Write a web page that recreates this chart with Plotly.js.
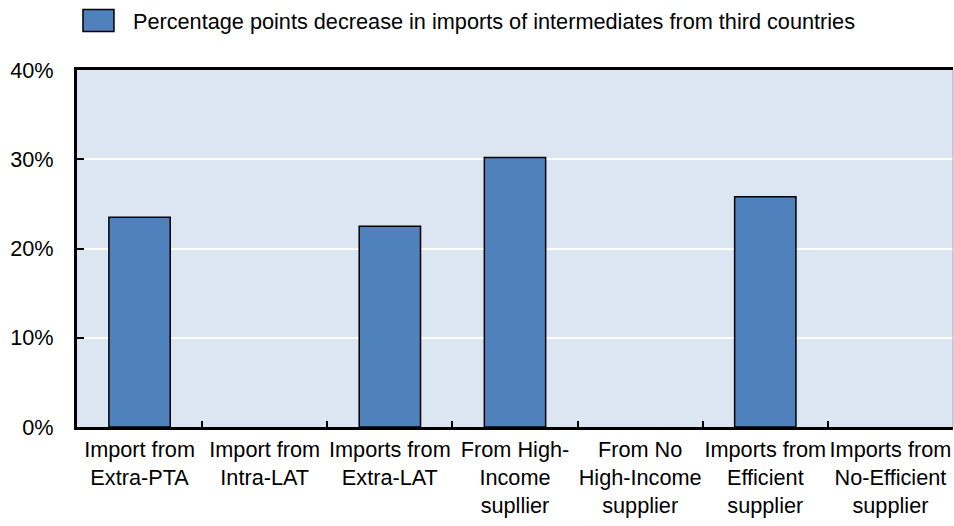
<!DOCTYPE html>
<html>
<head>
<meta charset="utf-8">
<script src="https://cdn.plot.ly/plotly-3.0.1.min.js"></script>
<style>html,body{margin:0;padding:0;background:#fff;}#chart{width:954px;height:526px;}</style>
</head>
<body>
<div id="chart"></div>
<script>
const categories = [
  "Import from<br>Extra-PTA",
  "Import from<br>Intra-LAT",
  "Imports from<br>Extra-LAT",
  "From High-<br>Income<br>supllier",
  "From No<br>High-Income<br>supplier",
  "Imports from<br>Efficient<br>supplier",
  "Imports from<br>No-Efficient<br>supplier"
];
const decreaseValues = [23.5, null, 22.5, 30.2, null, 25.8, null];
const seriesName = "Percentage points decrease in imports of intermediates from third countries";
const yTickValues = [0, 10, 20, 30, 40];
const yTickLabels = ["0%", "10%", "20%", "30%", "40%"];

const FONT = "'Liberation Sans', Arial, sans-serif";
const FS = 21.7;

const trace = {
  type: "bar",
  x: categories,
  y: decreaseValues,
  name: seriesName,
  marker: { color: "#4f81bd", line: { color: "#000000", width: 1.5 } },
  showlegend: true,
  hoverinfo: "skip"
};

const layout = {
  width: 954,
  height: 526,
  margin: { l: 77, r: 1, t: 70, b: 99, pad: 0 },
  paper_bgcolor: "#ffffff",
  plot_bgcolor: "#dce6f2",
  font: { family: FONT, size: FS, color: "#000000" },
  bargap: 0.51,
  showlegend: true,
  legend: {
    orientation: "h",
    xref: "container", yref: "container",
    x: 0.066, xanchor: "left",
    y: 1, yanchor: "top",
    itemwidth: 60,
    font: { family: FONT, size: FS, color: "#000000" },
    bgcolor: "rgba(0,0,0,0)"
  },
  xaxis: {
    type: "category",
    tickangle: 0,
    showline: true, linecolor: "#000000", linewidth: 3, mirror: true,
    ticks: "inside", tickson: "boundaries", ticklen: 6, tickwidth: 2, tickcolor: "#000000",
    showgrid: false, zeroline: false,
    tickfont: { family: FONT, size: FS, color: "#000000" },
    ticklabelstandoff: 1,
    fixedrange: true
  },
  yaxis: {
    range: [0, 40],
    tickvals: yTickValues,
    ticktext: yTickLabels,
    showline: true, linecolor: "#000000", linewidth: 3,
    ticks: "inside", ticklen: 7, tickwidth: 2, tickcolor: "#000000",
    showgrid: true, gridcolor: "#ffffff", gridwidth: 2,
    zeroline: false,
    tickfont: { family: FONT, size: FS, color: "#000000" },
    ticklabelstandoff: 16,
    fixedrange: true
  },
  shapes: [
    { type: "line", xref: "paper", yref: "paper", x0: 1, x1: 1, y0: 0, y1: 1,
      line: { color: "#a6a6a6", width: 1 } }
  ]
};

Plotly.newPlot("chart", [trace], layout, { displayModeBar: false, staticPlot: true }).then(function () {
  const sb = document.querySelector(".legend .scrollbox");
  if (sb) sb.removeAttribute("clip-path");
  const txt = document.querySelector(".legend .legendtext");
  document.querySelectorAll(".legend .legendpoints path").forEach(function (p) {
    if (!txt) return;
    const tr = txt.getBoundingClientRect();
    const pr = p.getBoundingClientRect();
    const cx = (pr.left + pr.right) / 2;
    const dx = (tr.left - 19 - 15.5) - cx;
    p.setAttribute("d", "M" + (dx + 15.5) + ",11H" + (dx - 15.5) + "V-11H" + (dx + 15.5) + "Z");
  });
});
</script>
</body>
</html>
